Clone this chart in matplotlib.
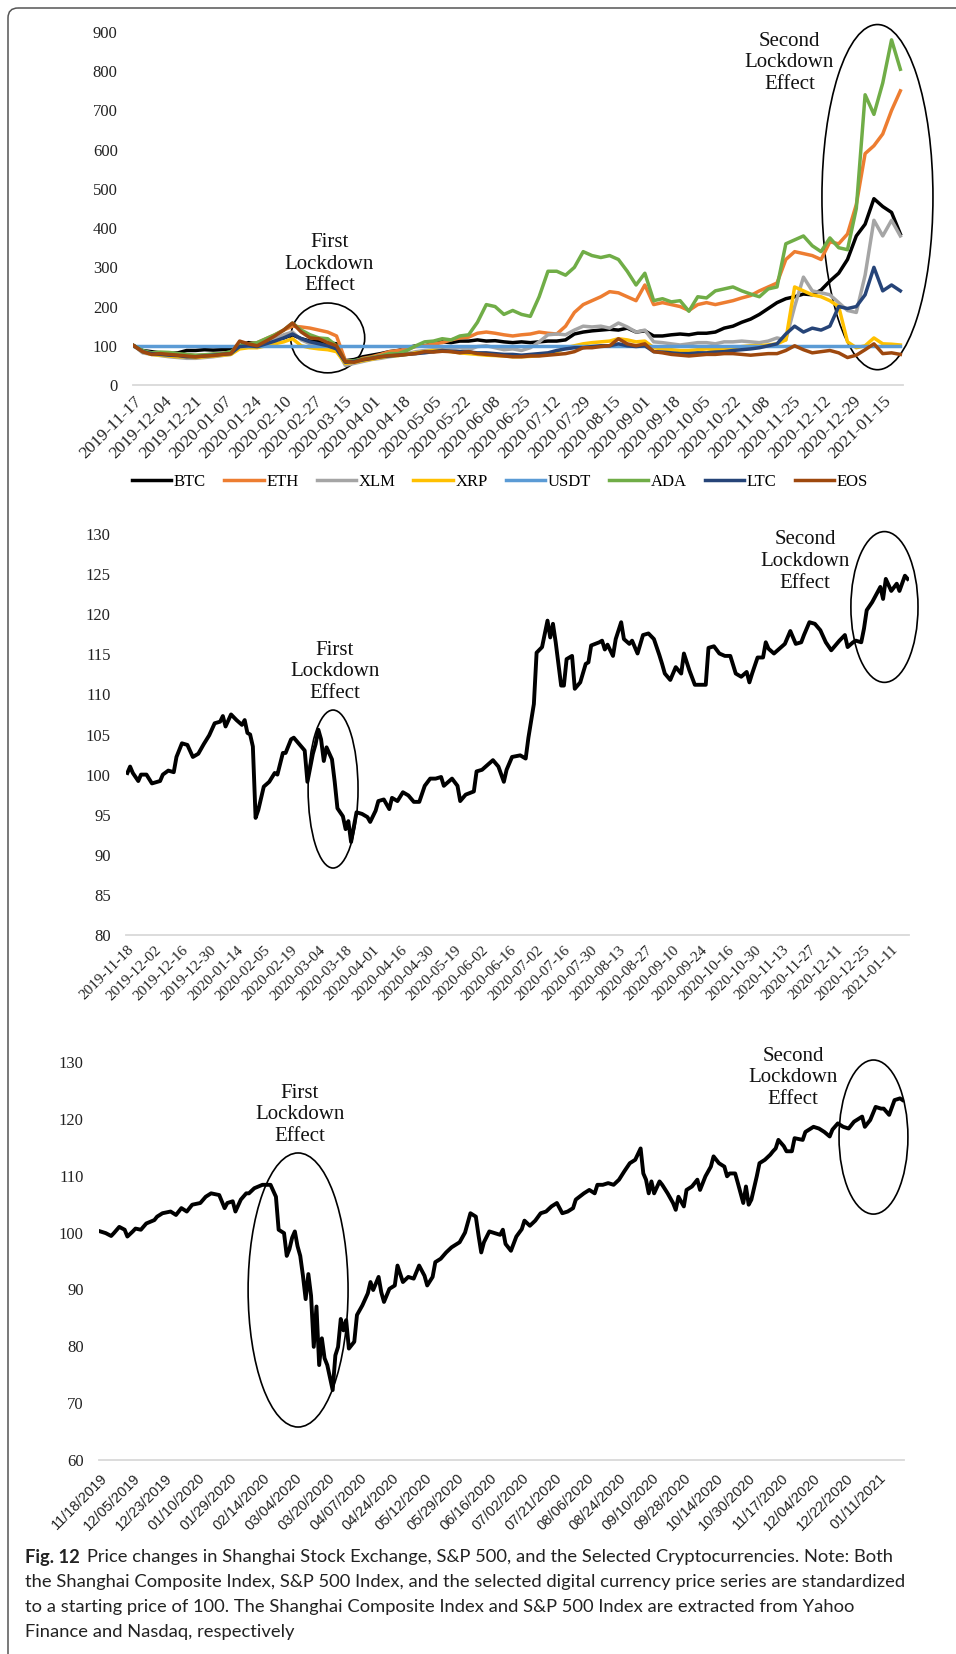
import matplotlib.pyplot as plt
import pandas as pd
from matplotlib.patches import Ellipse, FancyBboxPatch

SERIF = ["Liberation Serif", "DejaVu Serif"]
NARROW = ["Liberation Sans Narrow", "Liberation Sans", "DejaVu Sans"]
CAPTION = ["Lato", "DejaVu Sans"]

W, H = 956, 1654  # canvas size in pixels (dpi 100)

# ---- cryptocurrencies, every 5 days from 2019-11-17, standardized to 100 ----
crypto_start = "2019-11-17"
crypto_dates = pd.date_range(crypto_start, periods=88, freq="5D")

btc = [100, 88, 85, 82, 80, 82, 88, 88, 90, 89,
       90, 92, 100, 108, 106, 110, 118, 120, 128, 118,
       112, 110, 108, 105, 62, 65, 72, 76, 80, 85,
       88, 95, 100, 100, 105, 110, 108, 112, 112, 115,
       112, 113, 110, 108, 110, 108, 110, 112, 112, 115,
       130, 135, 138, 140, 142, 140, 145, 135, 138, 125,
       125, 128, 130, 128, 132, 132, 135, 145, 150, 160,
       168, 180, 195, 210, 220, 225, 232, 230, 242, 265,
       285, 320, 380, 410, 475, 455, 440, 385]
eth = [100, 85, 80, 82, 80, 78, 76, 75, 76, 78,
       80, 82, 98, 105, 108, 118, 128, 140, 150, 148,
       145, 140, 135, 125, 62, 60, 68, 72, 78, 85,
       88, 92, 98, 100, 105, 108, 115, 120, 122, 132,
       135, 132, 128, 125, 128, 130, 135, 132, 130, 150,
       185, 205, 215, 225, 238, 235, 225, 215, 255, 205,
       210, 205, 200, 190, 205, 210, 205, 210, 215, 222,
       228, 240, 250, 260, 320, 340, 335, 330, 320, 365,
       360, 385, 460, 590, 610, 640, 700, 750]
xlm = [100, 82, 78, 75, 72, 70, 68, 68, 70, 72,
       75, 78, 95, 100, 98, 108, 118, 128, 135, 115,
       105, 100, 95, 92, 50, 55, 60, 65, 68, 72,
       75, 80, 85, 88, 90, 95, 92, 95, 90, 98,
       100, 95, 90, 92, 88, 95, 110, 128, 130, 128,
       140, 150, 148, 150, 145, 158, 148, 135, 140, 110,
       108, 105, 102, 105, 108, 108, 105, 110, 110, 112,
       110, 108, 112, 120, 115, 200, 275, 240, 235, 230,
       210, 190, 185, 280, 420, 380, 420, 380]
xrp = [100, 85, 78, 76, 74, 72, 72, 70, 72, 74,
       76, 78, 92, 95, 95, 100, 105, 110, 118, 100,
       95, 92, 90, 85, 55, 58, 62, 66, 70, 74,
       75, 78, 82, 85, 88, 88, 85, 82, 80, 78,
       76, 75, 74, 72, 72, 73, 75, 78, 85, 95,
       100, 105, 108, 110, 112, 118, 115, 110, 112, 95,
       92, 90, 88, 88, 90, 92, 90, 92, 95, 98,
       100, 100, 102, 105, 115, 250, 240, 230, 225, 215,
       200, 110, 95, 100, 120, 105, 104, 102]
usdt = [100, 100, 100, 100, 100, 100, 100, 100, 100, 100,
        100, 100, 100, 100, 100, 100, 100, 100, 100, 100,
        100, 100, 100, 100, 100, 100, 100, 100, 100, 100,
        100, 100, 100, 100, 100, 100, 100, 100, 100, 100,
        100, 100, 100, 100, 100, 100, 100, 100, 100, 100,
        100, 100, 100, 100, 100, 100, 100, 100, 100, 100,
        100, 100, 100, 100, 100, 100, 100, 100, 100, 100,
        100, 100, 100, 100, 100, 100, 100, 100, 100, 100,
        100, 100, 100, 100, 100, 100, 100, 100]
ada = [100, 88, 82, 84, 83, 80, 78, 76, 77, 79,
       80, 85, 100, 105, 108, 118, 128, 140, 158, 140,
       128, 120, 118, 100, 60, 62, 66, 70, 74, 80,
       80, 88, 100, 110, 112, 118, 115, 125, 128, 160,
       205, 200, 180, 190, 180, 175, 225, 290, 290, 280,
       300, 340, 330, 325, 330, 320, 290, 255, 285, 215,
       220, 212, 215, 188, 225, 222, 240, 245, 250, 240,
       232, 225, 245, 250, 360, 370, 380, 355, 340, 375,
       350, 345, 450, 740, 690, 770, 880, 805]
ltc = [100, 85, 80, 78, 76, 75, 72, 72, 74, 76,
       78, 80, 98, 100, 98, 105, 112, 120, 130, 118,
       110, 105, 100, 92, 58, 60, 64, 68, 72, 74,
       76, 78, 80, 82, 85, 88, 86, 85, 84, 82,
       82, 80, 78, 78, 76, 78, 80, 82, 88, 92,
       95, 95, 98, 100, 100, 105, 100, 98, 100, 85,
       84, 82, 80, 80, 82, 82, 84, 85, 88, 90,
       92, 95, 100, 105, 130, 150, 135, 145, 140, 150,
       200, 195, 200, 230, 300, 240, 255, 240]
eos = [100, 85, 78, 80, 78, 76, 74, 72, 74, 75,
       78, 80, 112, 105, 100, 112, 125, 140, 158, 135,
       120, 118, 108, 100, 60, 58, 65, 68, 72, 75,
       76, 78, 80, 85, 84, 86, 85, 82, 85, 80,
       78, 76, 74, 72, 72, 74, 74, 76, 78, 80,
       85, 95, 95, 98, 100, 118, 105, 100, 105, 85,
       82, 78, 76, 74, 76, 78, 78, 80, 80, 78,
       76, 78, 80, 80, 88, 100, 90, 82, 85, 88,
       82, 70, 76, 90, 105, 80, 82, 78]

crypto_names = ["BTC", "ETH", "XLM", "XRP", "USDT", "ADA", "LTC", "EOS"]
crypto_series = [btc, eth, xlm, xrp, usdt, ada, ltc, eos]
crypto_colors = ["#000000", "#ED7D31", "#A5A5A5", "#FFC000",
                 "#5B9BD5", "#70AD47", "#264478", "#9E480E"]
crypto_n_days = 437
crypto_ticks = ["2019-11-17", "2019-12-04", "2019-12-21", "2020-01-07", "2020-01-24",
                "2020-02-10", "2020-02-27", "2020-03-15", "2020-04-01", "2020-04-18",
                "2020-05-05", "2020-05-22", "2020-06-08", "2020-06-25", "2020-07-12",
                "2020-07-29", "2020-08-15", "2020-09-01", "2020-09-18", "2020-10-05",
                "2020-10-22", "2020-11-08", "2020-11-25", "2020-12-12", "2020-12-29",
                "2021-01-15"]

# ---- Shanghai Composite, trading-day index -> standardized level ----
sse_n_days = 287
sse_idx = [0, 1, 2, 4, 5, 7, 9, 11, 12, 13, 15, 17, 18, 20, 22, 24, 26, 28, 30, 32,
           34, 35, 36, 38, 40, 42, 43, 44, 45, 46, 47, 48, 50, 52, 54, 55, 57, 58, 60, 61,
           63, 65, 66, 68, 69, 70, 71, 72, 73, 75, 76, 77, 79, 80, 81, 82, 83, 84, 86, 88,
           89, 91, 92, 94, 96, 97, 99, 101, 103, 105, 107, 109, 111, 113, 115, 116, 119, 121, 122, 124,
           127, 128, 130, 134, 136, 138, 139, 141, 144, 146, 147, 149, 150, 152, 154, 155, 156, 157, 159, 160,
           161, 163, 164, 166, 168, 169, 170, 173, 174, 175, 176, 178, 179, 181, 182, 184, 185, 187, 189, 191,
           193, 195, 196, 197, 199, 201, 203, 204, 206, 208, 209, 212, 213, 215, 217, 219, 221, 223, 225, 227,
           228, 229, 231, 233, 234, 235, 237, 239, 241, 243, 245, 247, 248, 250, 252, 254, 256, 258, 259, 261,
           263, 264, 266, 267, 269, 270, 271, 273, 276, 277, 278, 280, 282, 283, 285, 286]
sse_val = [100.2, 101.0, 100.2, 99.2, 100.0, 100.0, 98.9, 99.1, 99.2, 100.0, 100.5, 100.3, 102.2, 103.9, 103.7, 102.2, 102.6, 103.8, 104.9, 106.4,
           106.6, 107.3, 106.0, 107.5, 106.8, 106.2, 106.8, 105.2, 105.0, 103.5, 94.6, 95.6, 98.5, 99.1, 100.2, 100.0, 102.7, 102.7, 104.4, 104.6,
           103.8, 103.0, 99.1, 102.6, 103.8, 105.6, 104.4, 101.7, 103.4, 101.9, 99.1, 95.8, 94.8, 93.2, 94.2, 91.6, 93.5, 95.3, 95.1, 94.7,
           94.1, 95.5, 96.7, 96.9, 95.7, 97.1, 96.7, 97.8, 97.4, 96.6, 96.6, 98.6, 99.5, 99.5, 99.7, 98.6, 99.5, 98.6, 96.7, 97.5,
           97.9, 100.4, 100.6, 101.8, 101.0, 99.1, 100.6, 102.2, 102.4, 102.0, 104.6, 108.8, 115.2, 115.9, 119.2, 117.1, 118.8, 116.5, 111.1, 111.1,
           114.4, 114.8, 110.7, 111.5, 113.8, 114.0, 116.1, 116.5, 116.7, 115.6, 116.2, 114.8, 116.9, 119.0, 116.9, 116.3, 116.7, 115.1, 117.4, 117.6,
           116.9, 114.9, 113.8, 112.6, 111.8, 113.4, 112.6, 115.1, 113.0, 111.2, 111.2, 111.2, 115.8, 116.0, 115.1, 114.8, 114.8, 112.6, 112.2, 112.8,
           111.5, 112.6, 114.6, 114.6, 116.5, 115.7, 115.1, 115.7, 116.3, 117.9, 116.3, 116.5, 117.4, 119.0, 118.8, 118.0, 116.5, 115.5, 115.9, 116.7,
           117.4, 115.9, 116.5, 116.7, 116.5, 118.2, 120.5, 121.5, 123.4, 121.9, 124.4, 122.9, 123.8, 122.9, 124.8, 124.4]
sse_ticks = ["2019-11-18", "2019-12-02", "2019-12-16", "2019-12-30", "2020-01-14",
             "2020-02-05", "2020-02-19", "2020-03-04", "2020-03-18", "2020-04-01",
             "2020-04-16", "2020-04-30", "2020-05-19", "2020-06-02", "2020-06-16",
             "2020-07-02", "2020-07-16", "2020-07-30", "2020-08-13", "2020-08-27",
             "2020-09-10", "2020-09-24", "2020-10-16", "2020-10-30", "2020-11-13",
             "2020-11-27", "2020-12-11", "2020-12-25", "2021-01-11"]

# ---- S&P 500, trading-day index -> standardized level ----
spx_n_days = 298
spx_idx = [0, 2, 4, 5, 7, 9, 10, 12, 13, 15, 17, 20, 21, 23, 26, 28, 30, 32, 34, 37,
           39, 41, 44, 46, 47, 49, 50, 52, 54, 55, 57, 60, 63, 65, 66, 68, 69, 70, 71, 72,
           73, 74, 75, 76, 77, 78, 79, 80, 81, 82, 83, 84, 86, 87, 88, 89, 90, 91, 92, 94,
           95, 97, 99, 100, 101, 103, 104, 105, 107, 109, 110, 112, 114, 116, 118, 120, 121, 123, 124, 126,
           128, 130, 133, 135, 137, 139, 140, 141, 142, 144, 146, 148, 149, 150, 152, 154, 156, 157, 159, 161,
           163, 165, 167, 169, 171, 173, 175, 176, 179, 181, 183, 184, 186, 188, 190, 192, 194, 196, 198, 200,
           201, 202, 203, 204, 205, 207, 208, 210, 212, 213, 214, 216, 217, 219, 221, 222, 224, 226, 227, 229,
           231, 232, 233, 235, 236, 238, 239, 240, 241, 243, 244, 246, 248, 249, 250, 251, 253, 254, 256, 257,
           260, 261, 264, 266, 268, 270, 271, 273, 275, 277, 279, 281, 282, 283, 285, 287, 289, 290, 292, 294,
           296, 297]
spx_val = [100.2, 99.9, 99.4, 99.9, 101.0, 100.5, 99.3, 100.2, 100.7, 100.5, 101.6, 102.2, 102.8, 103.4, 103.7, 103.1, 104.3, 103.7, 104.9, 105.2,
           106.3, 106.9, 106.6, 104.3, 105.2, 105.5, 103.7, 105.8, 106.9, 106.9, 107.8, 108.4, 108.4, 106.3, 100.5, 99.9, 95.9, 97.1, 99.1, 100.2,
           97.6, 95.9, 92.4, 88.3, 92.7, 88.9, 79.9, 87.0, 76.7, 81.4, 77.9, 76.7, 72.3, 78.4, 79.9, 84.8, 82.8, 84.6, 79.6, 80.8,
           85.5, 87.2, 89.3, 91.3, 89.9, 92.2, 89.5, 87.8, 90.1, 90.7, 94.2, 91.3, 92.2, 91.9, 94.2, 92.4, 90.7, 92.2, 94.8, 95.4,
           96.5, 97.4, 98.3, 100.0, 103.4, 102.8, 99.5, 96.5, 98.3, 100.2, 99.9, 99.6, 100.5, 98.0, 96.8, 99.3, 100.6, 102.1, 101.2, 102.1,
           103.4, 103.7, 104.6, 105.2, 103.4, 103.7, 104.3, 105.8, 106.9, 107.5, 106.9, 108.4, 108.4, 108.7, 108.4, 109.3, 110.8, 112.2, 112.8, 114.8,
           110.4, 109.3, 106.9, 109.0, 106.9, 109.0, 108.4, 106.9, 105.2, 104.0, 106.3, 104.6, 107.5, 108.1, 109.3, 107.5, 109.9, 111.6, 113.4, 112.2,
           111.6, 109.9, 110.4, 110.4, 108.7, 105.2, 108.1, 104.9, 105.8, 109.9, 112.2, 112.8, 113.7, 114.3, 114.8, 116.3, 115.2, 114.3, 114.3, 116.6,
           116.3, 117.7, 118.6, 118.3, 117.7, 116.9, 118.1, 119.2, 118.6, 118.3, 119.5, 120.1, 120.4, 118.6, 119.8, 122.1, 121.8, 121.8, 120.7, 123.3,
           123.6, 123.3]
spx_ticks = ["11/18/2019", "12/05/2019", "12/23/2019", "01/10/2020", "01/29/2020",
             "02/14/2020", "03/04/2020", "03/20/2020", "04/07/2020", "04/24/2020",
             "05/12/2020", "05/29/2020", "06/16/2020", "07/02/2020", "07/21/2020",
             "08/06/2020", "08/24/2020", "09/10/2020", "09/28/2020", "10/14/2020",
             "10/30/2020", "11/17/2020", "12/04/2020", "12/22/2020", "01/11/2021"]

caption_lines = [
    "Price changes in Shanghai Stock Exchange, S&P 500, and the Selected Cryptocurrencies. Note: Both",
    "the Shanghai Composite Index, S&P 500 Index, and the selected digital currency price series are standardized",
    "to a starting price of 100. The Shanghai Composite Index and S&P 500 Index are extracted from Yahoo",
    "Finance and Nasdaq, respectively",
]


def add_axes_px(fig, left, top, right, bottom):
    return fig.add_axes([left / W, 1 - bottom / H, (right - left) / W, (bottom - top) / H])


def style_axes(ax, yticks, n_cat, tick_pos, tick_labels, xfont, xsize, xpad):
    for side in ("top", "right", "left"):
        ax.spines[side].set_visible(False)
    ax.spines["bottom"].set_color("#d9d9d9")
    ax.spines["bottom"].set_linewidth(1.3)
    ax.set_facecolor("none")
    ax.set_xlim(-0.5, n_cat - 0.5)
    ax.set_ylim(yticks[0], yticks[-1])
    ax.set_yticks(yticks)
    ax.set_yticklabels([str(v) for v in yticks], family=SERIF, fontsize=12, color="#222222")
    ax.set_xticks(tick_pos)
    ax.set_xticklabels(tick_labels, family=xfont, fontsize=xsize, color="#222222",
                       rotation=45, ha="right", rotation_mode="anchor")
    ax.tick_params(length=0)
    ax.tick_params(axis="y", pad=11)
    ax.tick_params(axis="x", pad=xpad)


def lockdown_note(ax, label, text_xy, center, width, height):
    ax.add_patch(Ellipse(center, width, height, fill=False, ec="black", lw=1.2, clip_on=False))
    ax.text(text_xy[0], text_xy[1], label, ha="center", va="center", fontsize=15,
            family=SERIF, linespacing=1.2, color="#111111")


fig = plt.figure(figsize=(W / 100, H / 100), dpi=100)

# full-figure canvas in pixel units for the frame and the caption
canvas = fig.add_axes([0, 0, 1, 1])
canvas.set_xlim(0, W)
canvas.set_ylim(H, 0)
canvas.axis("off")
canvas.add_patch(FancyBboxPatch((8, 8), 1200, 1900, boxstyle="round,pad=0,rounding_size=10",
                                fill=False, ec="#555555", lw=1.1))

# --- top panel: cryptocurrencies ---
ax1 = add_axes_px(fig, 133, 32, 903, 385)
start = pd.Timestamp(crypto_start)
x_crypto = (crypto_dates - start).days
for name, values, color in zip(crypto_names, crypto_series, crypto_colors):
    ax1.plot(x_crypto, values, color=color, lw=2.5, label=name, solid_joinstyle="round")
crypto_tick_pos = [(pd.Timestamp(t) - start).days for t in crypto_ticks]
style_axes(ax1, list(range(0, 901, 100)), crypto_n_days, crypto_tick_pos, crypto_ticks,
           SERIF, 12.5, 6)
lockdown_note(ax1, "First\nLockdown\nEffect", (111, 308), (110, 120), 42, 178)
lockdown_note(ax1, "Second\nLockdown\nEffect", (372, 821), (422, 479), 63, 880)

handles, labels = ax1.get_legend_handles_labels()
fig.legend(handles, labels, loc="center", bbox_to_anchor=(500 / W, 1 - 482 / H), ncol=8,
           frameon=False, prop={"family": SERIF, "size": 12}, handlelength=2.35,
           handletextpad=0.15, columnspacing=1.1)

# --- middle panel: Shanghai Composite ---
ax2 = add_axes_px(fig, 126, 534, 909, 935)
ax2.plot(sse_idx, sse_val, color="black", lw=2.8, solid_joinstyle="round")
style_axes(ax2, list(range(80, 131, 5)), sse_n_days, list(range(0, 10 * len(sse_ticks), 10)),
           sse_ticks, SERIF, 11, 6)
lockdown_note(ax2, "First\nLockdown\nEffect", (76, 112.8), (75.4, 98.2), 18.3, 19.7)
lockdown_note(ax2, "Second\nLockdown\nEffect", (248.4, 126.6), (277.5, 120.9), 24.6, 18.8)

# --- bottom panel: S&P 500 ---
ax3 = add_axes_px(fig, 99, 1062, 904, 1460)
ax3.plot(spx_idx, spx_val, color="black", lw=2.8, solid_joinstyle="round")
style_axes(ax3, list(range(60, 131, 10)), spx_n_days, list(range(0, 12 * len(spx_ticks), 12)),
           spx_ticks, NARROW, 10.5, 8)
lockdown_note(ax3, "First\nLockdown\nEffect", (73.9, 120.7), (73.2, 89.9), 37, 48.2)
lockdown_note(ax3, "Second\nLockdown\nEffect", (256.4, 127.2), (286.2, 116.8), 25.5, 27.1)

# --- caption: bold figure number, then the note flowing after it ---
cap_size = 13.2
fig_no = canvas.text(25, 1557, "Fig. 12", family=CAPTION, fontsize=cap_size,
                     fontweight="bold", color="#222222", va="center")
fig_no_end = fig_no.get_window_extent(renderer=fig.canvas.get_renderer()).x1
for k, line in enumerate(caption_lines):
    x0 = fig_no_end + 7 if k == 0 else 25
    canvas.text(x0, 1557 + 25 * k, line, family=CAPTION, fontsize=cap_size, color="#222222",
                va="center")

fig.savefig("out.png", dpi=100)
